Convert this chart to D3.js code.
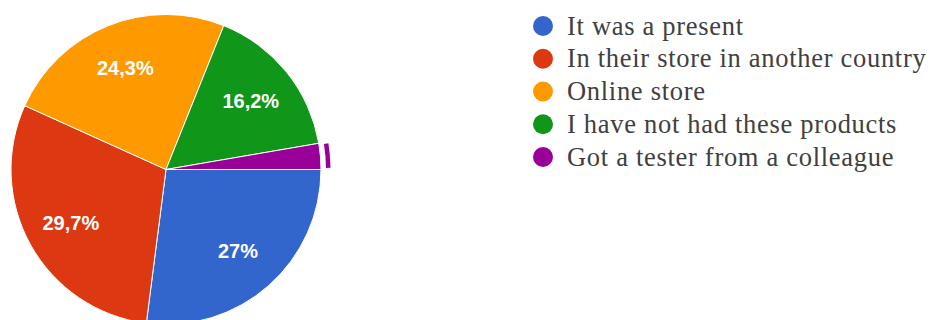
<!DOCTYPE html>
<html>
<head>
<meta charset="utf-8">
<script src="https://cdn.jsdelivr.net/npm/d3@7"></script>
<style>
  html, body { margin: 0; padding: 0; background: #fff; }
  svg { display: block; }
</style>
</head>
<body>
<svg id="chart" width="933" height="320"></svg>
<script>
// Where the products came from (response counts)
const categories = [
  "It was a present",
  "In their store in another country",
  "Online store",
  "I have not had these products",
  "Got a tester from a colleague"
];
const counts = [10, 11, 9, 6, 1];
const colors = ["#3366cc", "#dc3912", "#ff9900", "#109618", "#990099"];
const highlighted = 4; // slice shown with its hover ring

const svg = d3.select("#chart");
const cx = 166, cy = 169.5, radius = 155;
const total = d3.sum(counts);

const pie = d3.pie().sort(null).value(d => d)
  .startAngle(Math.PI / 2).endAngle(Math.PI / 2 + 2 * Math.PI);
const arcs = pie(counts);

const arc = d3.arc().innerRadius(0).outerRadius(radius);
const labelArc = d3.arc().innerRadius(109).outerRadius(109);
const ringArc = d3.arc().innerRadius(radius + 5).outerRadius(radius + 9.5);

const g = svg.append("g").attr("transform", `translate(${cx},${cy})`);

g.selectAll("path.slice")
  .data(arcs)
  .join("path")
  .attr("class", "slice")
  .attr("d", arc)
  .attr("fill", (d, i) => colors[i])
  .attr("stroke", "#ffffff")
  .attr("stroke-width", 1);

// hover ring around the highlighted slice
g.append("path")
  .attr("d", ringArc({
    startAngle: arcs[highlighted].startAngle + 0.01,
    endAngle: arcs[highlighted].endAngle - 0.01
  }))
  .attr("fill", colors[highlighted]);

const fmt = v => {
  const p = Math.round(v / total * 1000) / 10;
  return String(p).replace(".", ",") + "%";
};

g.selectAll("text.pct")
  .data(arcs.filter(d => d.value / total >= 0.05))
  .join("text")
  .attr("class", "pct")
  .attr("transform", d => `translate(${labelArc.centroid(d)})`)
  .attr("text-anchor", "middle")
  .attr("dominant-baseline", "central")
  .attr("fill", "#ffffff")
  .style("font-family", "'Liberation Sans', Arial, sans-serif")
  .style("font-size", "20px")
  .style("font-weight", "bold")
  .text(d => fmt(d.value));

// legend
const rowY = d3.scalePoint().domain(d3.range(categories.length)).range([26, 157]);
const legend = svg.append("g");
const rows = legend.selectAll("g")
  .data(categories)
  .join("g")
  .attr("transform", (d, i) => `translate(543,${rowY(i)})`);

rows.append("circle")
  .attr("r", 10)
  .attr("fill", (d, i) => colors[i]);

rows.append("text")
  .attr("x", 24)
  .attr("y", 8.5)
  .attr("fill", "#404040")
  .style("font-family", "'Liberation Serif', 'Times New Roman', serif")
  .style("font-size", "26.5px")
  .style("letter-spacing", "0.7px")
  .text(d => d);
</script>
</body>
</html>
